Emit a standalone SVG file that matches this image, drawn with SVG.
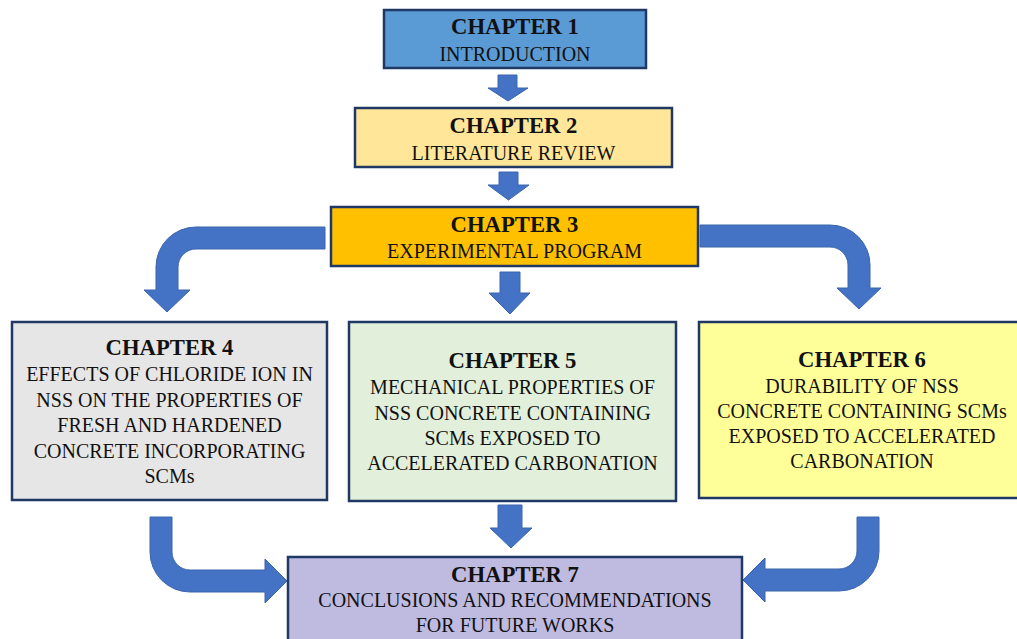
<svg xmlns="http://www.w3.org/2000/svg" width="1017" height="639" viewBox="0 0 1017 639">
<style>
.box{stroke:#1F3864;stroke-width:2.5}
.t{font-family:"Liberation Serif","Times New Roman",serif;fill:#111;text-anchor:middle}
.h{font-size:22.7px;font-weight:bold}
.b{font-size:20px}
.arr{fill:#4472C4;stroke:#3B64AE;stroke-width:1}
</style>
<rect width="1017" height="639" fill="#ffffff"/>
<g id="connectors">
<path class="arr" d="M498,75 L517,75 L517,88 L528,88 L508,101 L488,88 L498,88 Z"/>
<path class="arr" d="M499,172 L518,172 L518,185 L529,185 L508.5,200 L488,185 L499,185 Z"/>
<path class="arr" d="M500,272 L520,272 L520,293 L530,293 L510,314 L489,293 L500,293 Z"/>
<path class="arr" d="M498,505 L522,505 L522,528 L532,528 L511,548 L490,528 L498,528 Z"/>
<path class="arr" d="M325,227 L196,227 A40,40 0 0 0 156,267 L156,290 L144,290 L167,312 L190,290 L178,290 L178,267 A18,18 0 0 1 196,249 L325,249 Z"/>
<path class="arr" d="M700,225 L830,225 A40,40 0 0 1 870,265 L870,288 L881,288 L859,309 L837,288 L848,288 L848,265 A18,18 0 0 0 830,247 L700,247 Z"/>
<path class="arr" d="M150,517 L172,517 L172,552 A18,18 0 0 0 190,570 L265,570 L265,559 L287,581 L265,603 L265,592 L190,592 A40,40 0 0 1 150,552 Z"/>
<path class="arr" d="M857,517 L879,517 L879,551 A40,40 0 0 1 839,591 L765,591 L765,602 L743,580 L765,558 L765,569 L839,569 A18,18 0 0 0 857,551 Z"/>
</g>
<g id="ch1">
<rect class="box" x="384" y="10" width="262" height="58" fill="#5B9BD5"/>
<text class="t h" x="515" y="34">CHAPTER 1</text>
<text class="t b" x="515" y="61">INTRODUCTION</text>
</g>
<g id="ch2">
<rect class="box" x="355" y="108" width="317" height="59" fill="#FFE699"/>
<text class="t h" x="513.5" y="133">CHAPTER 2</text>
<text class="t b" x="513.5" y="160">LITERATURE REVIEW</text>
</g>
<g id="ch3">
<rect class="box" x="331" y="207" width="367" height="59" fill="#FFC000"/>
<text class="t h" x="514.5" y="232">CHAPTER 3</text>
<text class="t b" x="514.5" y="258">EXPERIMENTAL PROGRAM</text>
</g>
<g id="ch4">
<rect class="box" x="12" y="322" width="315" height="178" fill="#E7E6E6"/>
<text class="t h" x="169.5" y="355">CHAPTER 4</text>
<text class="t b" x="169.5" y="381">EFFECTS OF CHLORIDE ION IN</text>
<text class="t b" x="169.5" y="407">NSS ON THE PROPERTIES OF</text>
<text class="t b" x="169.5" y="432">FRESH AND HARDENED</text>
<text class="t b" x="169.5" y="458">CONCRETE INCORPORATING</text>
<text class="t b" x="169.5" y="483">SCMs</text>
</g>
<g id="ch5">
<rect class="box" x="349" y="322" width="327" height="179" fill="#E2EFDA"/>
<text class="t h" x="512.5" y="368">CHAPTER 5</text>
<text class="t b" x="512.5" y="394">MECHANICAL PROPERTIES OF</text>
<text class="t b" x="512.5" y="420">NSS CONCRETE CONTAINING</text>
<text class="t b" x="512.5" y="445">SCMs EXPOSED TO</text>
<text class="t b" x="512.5" y="470">ACCELERATED CARBONATION</text>
</g>
<g id="ch6">
<rect class="box" x="699" y="322" width="327" height="176" fill="#FFFF99"/>
<text class="t h" x="862" y="367">CHAPTER 6</text>
<text class="t b" x="862" y="393">DURABILITY OF NSS</text>
<text class="t b" x="862" y="418">CONCRETE CONTAINING SCMs</text>
<text class="t b" x="862" y="443">EXPOSED TO ACCELERATED</text>
<text class="t b" x="862" y="468">CARBONATION</text>
</g>
<g id="ch7">
<rect class="box" x="288" y="557" width="454" height="95" fill="#BFBAE0"/>
<text class="t h" x="515" y="582">CHAPTER 7</text>
<text class="t b" x="515" y="607">CONCLUSIONS AND RECOMMENDATIONS</text>
<text class="t b" x="515" y="632">FOR FUTURE WORKS</text>
</g>
</svg>
